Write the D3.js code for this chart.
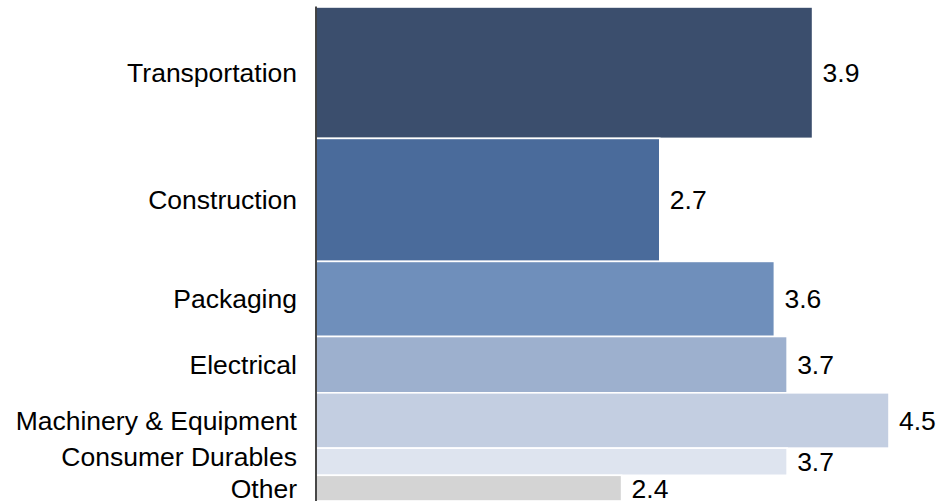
<!DOCTYPE html>
<html>
<head>
<meta charset="utf-8">
<script src="https://cdn.jsdelivr.net/npm/d3@7"></script>
<style>
  html, body { margin: 0; padding: 0; background: #fff; }
  svg { display: block; }
  text { font-family: "Liberation Sans", Arial, Helvetica, sans-serif; fill: #000; }
</style>
</head>
<body>
<svg id="chart" width="951" height="501"></svg>
<script>
// Data
const categories = ["Transportation", "Construction", "Packaging", "Electrical",
                    "Machinery & Equipment", "Consumer Durables", "Other"];
const values = [3.9, 2.7, 3.6, 3.7, 4.5, 3.7, 2.4];          // bar length
const shares = [26.6, 24.9, 15.2, 11.4, 11.2, 5.5, 5.2];      // bar thickness (share, %)
const valueLabels = ["3.9", "2.7", "3.6", "3.7", "4.5", "3.7", "2.4"];
const colors = ["#3b4e6d", "#4a6b9b", "#6f8fbb", "#9db0ce", "#c3cee1", "#dee4ef", "#d4d4d4"];

const svg = d3.select("#chart");
const W = 951, H = 501;
const axisX = 316;
const fontSize = 26.5;

const x = d3.scaleLinear().domain([0, 4.5]).range([axisX, 889]);
const total = d3.sum(shares);
const y = d3.scaleLinear().domain([0, total]).range([7, 501]);

let cum = 0;
const rows = categories.map((c, i) => {
  const r = { cat: c, v: values[i], s: shares[i], lab: valueLabels[i], col: colors[i], y0: cum, y1: cum + shares[i] };
  cum += shares[i];
  return r;
});

// bars
svg.append("g").selectAll("rect").data(rows).join("rect")
  .attr("x", x(0))
  .attr("y", d => y(d.y0))
  .attr("width", d => x(d.v) - x(0))
  .attr("height", d => y(d.y1) - y(d.y0))
  .attr("fill", d => d.col)
  .attr("stroke", "#fff")
  .attr("stroke-width", 1.6);

// category label positions with simple overlap avoidance (bottom-up)
const minGap = 31.5;
const centers = rows.map(d => (y(d.y0) + y(d.y1)) / 2);
const labCenters = centers.slice();
for (let i = labCenters.length - 2; i >= 0; i--) {
  labCenters[i] = Math.min(labCenters[i], labCenters[i + 1] - minGap);
}

svg.append("g").selectAll("text").data(rows).join("text")
  .attr("x", axisX - 19)
  .attr("y", (d, i) => labCenters[i])
  .attr("dy", "0.36em")
  .attr("text-anchor", "end")
  .style("font-size", fontSize + "px")
  .text(d => d.cat);

svg.append("g").selectAll("text").data(rows).join("text")
  .attr("x", d => x(d.v) + 10)
  .attr("y", (d, i) => centers[i])
  .attr("dy", "0.36em")
  .attr("text-anchor", "start")
  .style("font-size", fontSize + "px")
  .text(d => d.lab);

// axis line
const yAxis = d3.axisLeft(d3.scaleLinear().domain([0, 1]).range([6, H])).ticks(0).tickSize(0).tickFormat("");
svg.append("g").attr("transform", `translate(${axisX - 0.5},0)`).call(yAxis)
  .select(".domain").attr("stroke", "#1a1a1a").attr("stroke-width", 1.6);
</script>
</body>
</html>
